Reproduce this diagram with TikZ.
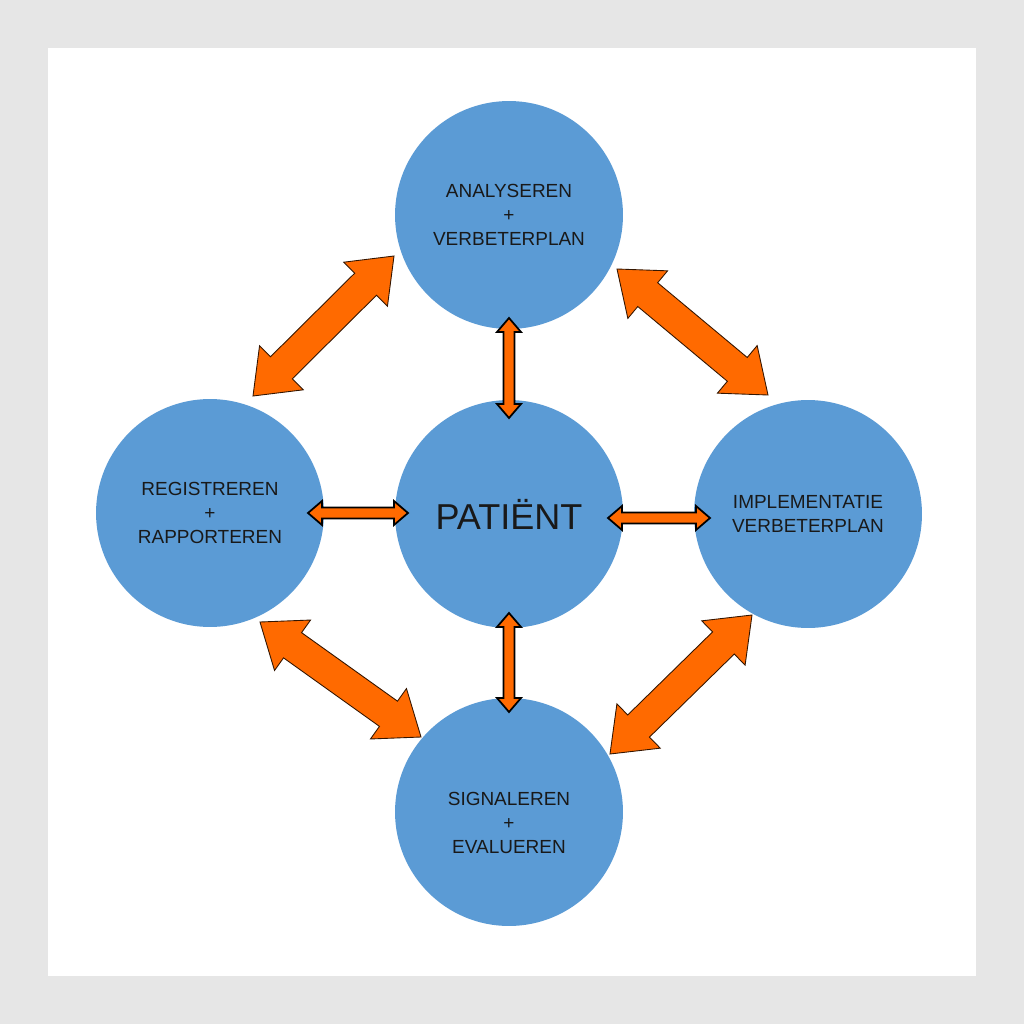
\documentclass[tikz,border=0pt]{standalone}
\usepackage{fontspec}
\setmainfont{Liberation Sans}
\usetikzlibrary{calc}
\definecolor{cirkelblauw}{RGB}{91,155,213}
\definecolor{pijloranje}{RGB}{255,106,0}
\definecolor{achtergrond}{RGB}{230,230,230}
% dubbele pijl als veelhoek: [stijl]{van}{naar}{halve schacht}{halve kop}{koplengte}
\newcommand{\dubbelpijl}[6][]{%
  \coordinate (p) at ($(#2)!#6!(#3)$);
  \coordinate (q) at ($(#3)!#6!(#2)$);
  \filldraw[#1] (#2) -- ($(p)!#5!90:(#3)$) -- ($(p)!#4!90:(#3)$)
    -- ($(q)!#4!-90:(#2)$) -- ($(q)!#5!-90:(#2)$) -- (#3)
    -- ($(q)!#5!90:(#2)$) -- ($(q)!#4!90:(#2)$)
    -- ($(p)!#4!-90:(#3)$) -- ($(p)!#5!-90:(#3)$) -- cycle;}
\begin{document}
\begin{tikzpicture}[x=0.02cm,y=-0.02cm,
	cirkeltekst/.style={align=center,font=\fontsize{10.8}{13.6}\selectfont,text=black!90},
	cirkel/.style={circle,fill=cirkelblauw,minimum size=4.56cm,inner sep=0pt,cirkeltekst},
	dikkepijl/.style={fill=pijloranje,draw=black!80!pijloranje,line width=0.5pt,line join=miter},
	dunnepijl/.style={fill=pijloranje,draw=black,line width=1pt,line join=miter}]
	\fill[achtergrond] (0,0) rectangle (1024,1024);
	\fill[white] (48,48) rectangle (976,976);
	% cirkels
	\node[cirkel] (analyse) at (509,215) {ANALYSEREN\\+\\VERBETERPLAN};
	\node[cirkel] (registreer) at (210,513) {REGISTREREN\\+\\RAPPORTEREN};
	\node[cirkel,font=\fontsize{20.5}{24}\selectfont] (patient) at (509,514) {PATIËNT};
	\node[cirkel] (implementatie) at (808,514) {IMPLEMENTATIE\\VERBETERPLAN};
	\node[cirkel,label={[cirkeltekst,yshift=-0.22cm]center:SIGNALEREN\\+\\EVALUEREN}]
		(signaleer) at (509,812) {};
	% grote pijlen tussen de buitenste cirkels
	\coordinate (a1) at (253,396); \coordinate (b1) at (394,256);
	\coordinate (a2) at (617,269); \coordinate (b2) at (768,395);
	\coordinate (a3) at (260,622); \coordinate (b3) at (421,737);
	\coordinate (a4) at (610,754); \coordinate (b4) at (752,615);
	\foreach \van/\naar in {a1/b1,a2/b2,a3/b3,a4/b4}
	\dubbelpijl[dikkepijl]{\van}{\naar}{0.31cm}{0.62cm}{0.8cm};
	% kleine pijlen naar de patient
	\coordinate (c1) at (509,318); \coordinate (d1) at (509,418);
	\coordinate (c2) at (509,613); \coordinate (d2) at (509,712);
	\coordinate (c3) at (308,513); \coordinate (d3) at (408,513);
	\coordinate (c4) at (608,518); \coordinate (d4) at (710,518);
	\foreach \van/\naar in {c1/d1,c2/d2,c3/d3,c4/d4}
	\dubbelpijl[dunnepijl]{\van}{\naar}{0.11cm}{0.24cm}{0.28cm};
\end{tikzpicture}
\end{document}
